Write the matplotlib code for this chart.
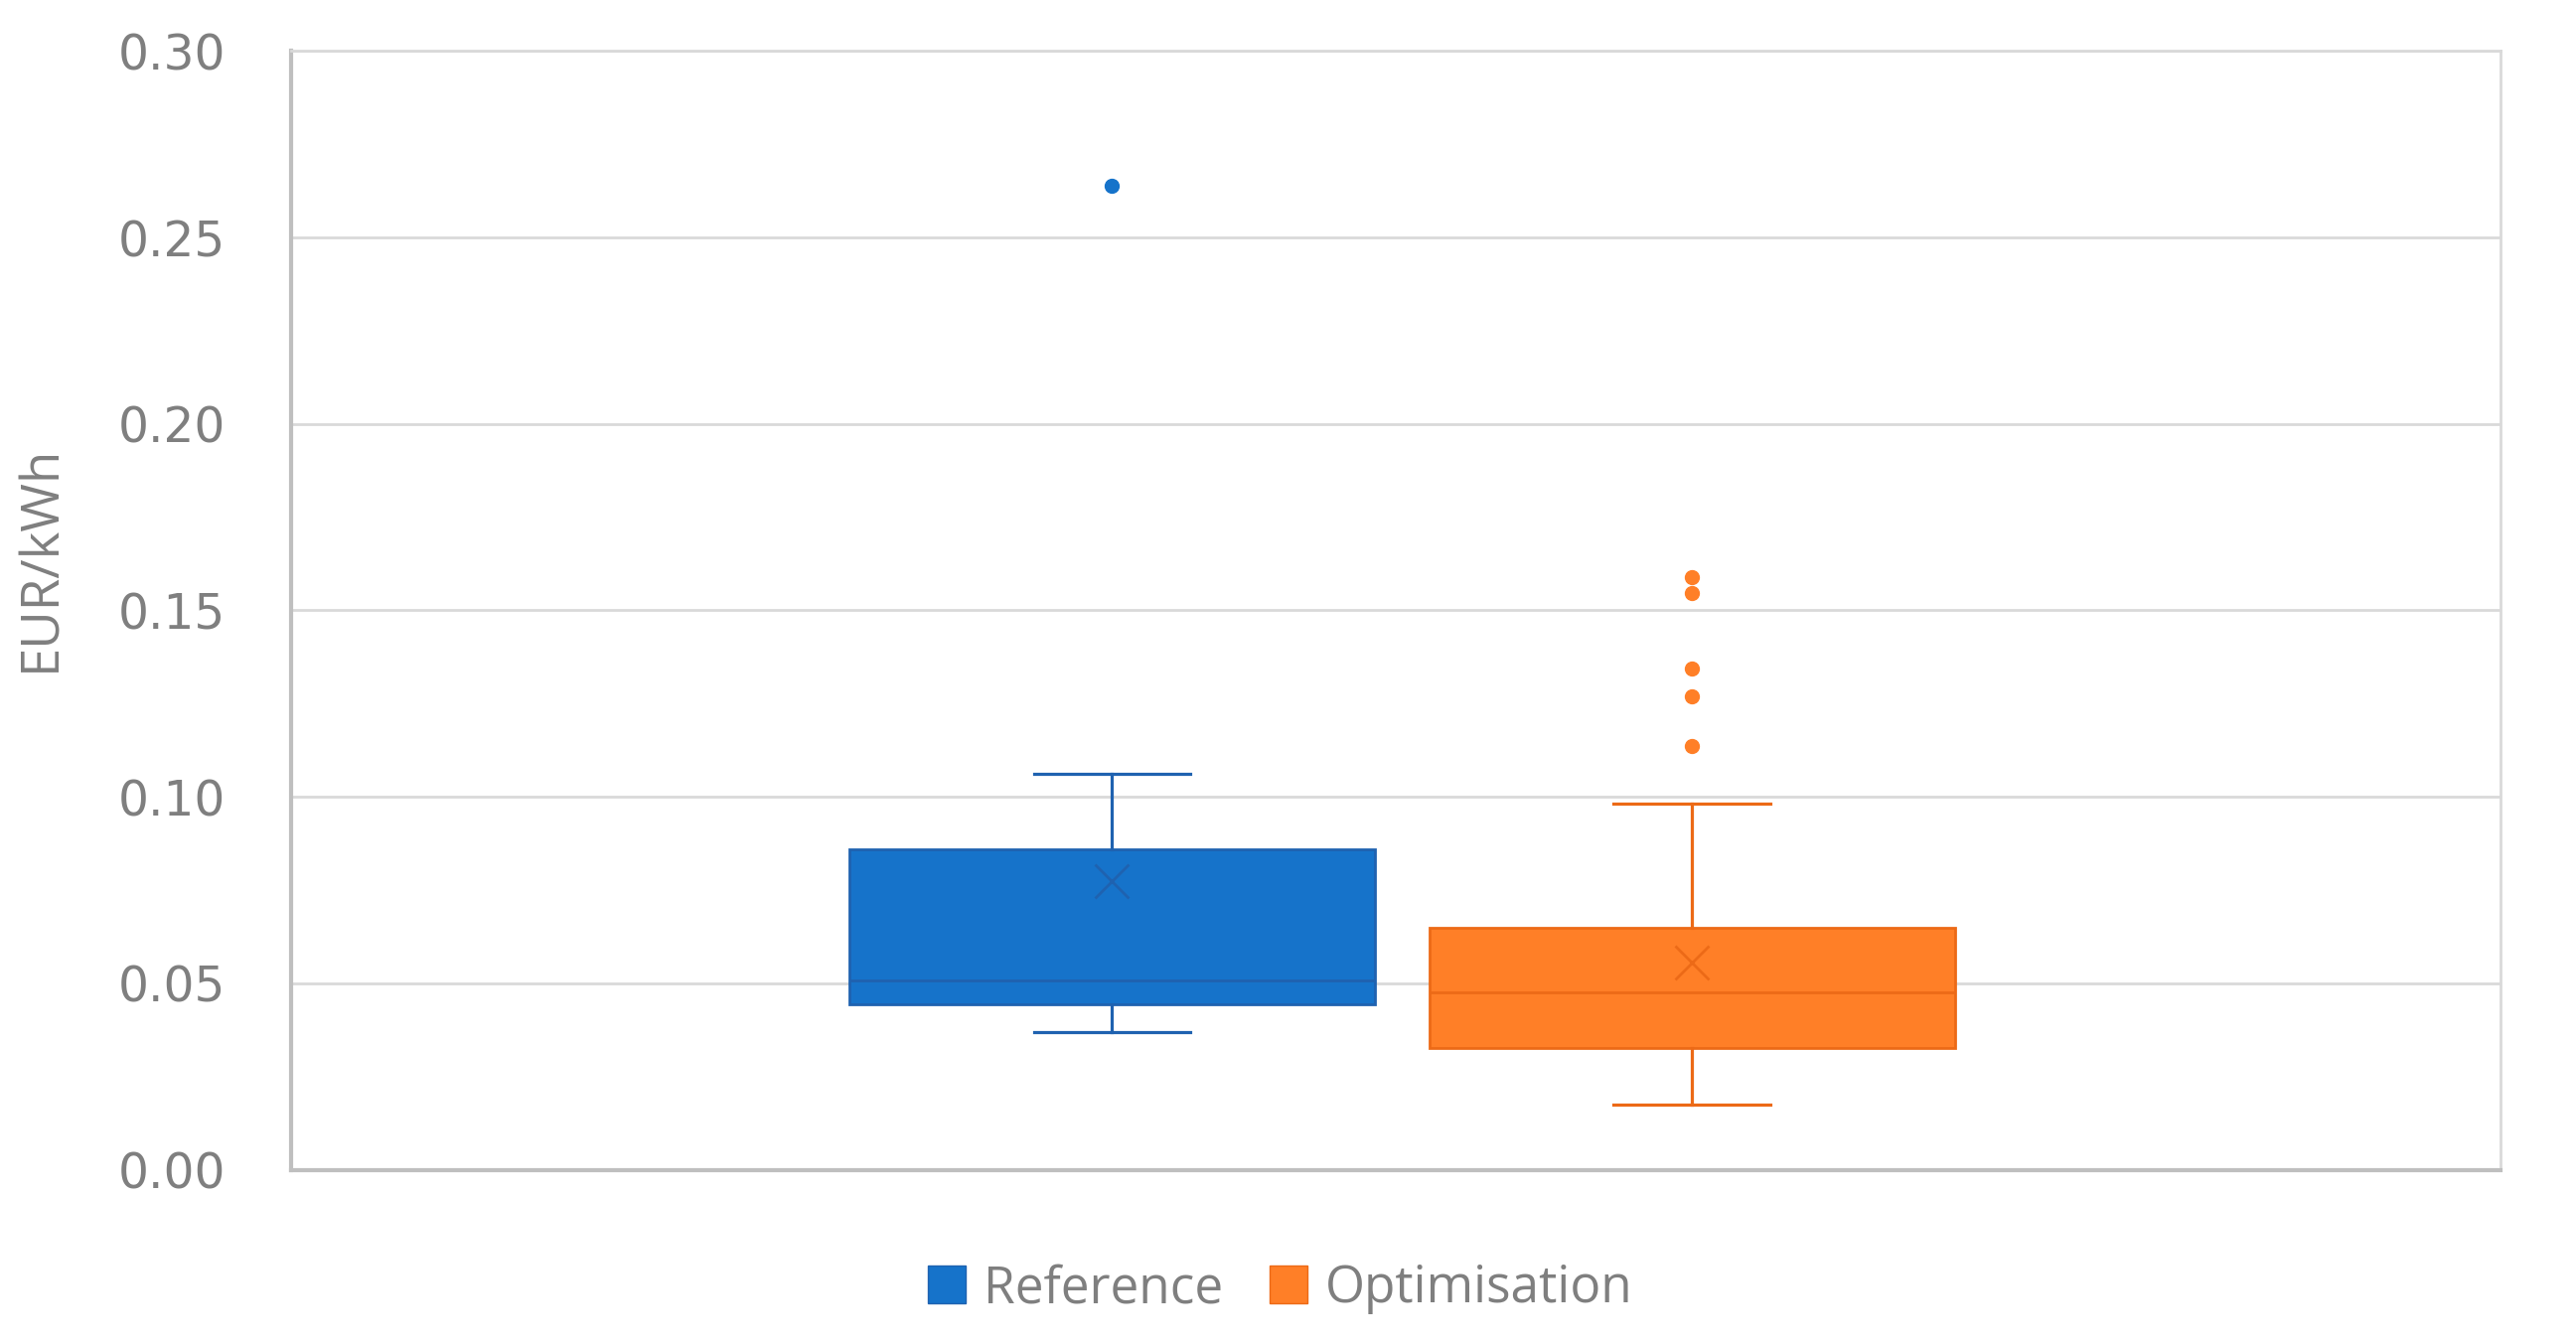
import matplotlib
matplotlib.use("Agg")
import matplotlib.pyplot as plt
from matplotlib.patches import Patch

# valores (EUR/kWh)
series = ["Reference", "Optimisation"]
whislo = [0.037, 0.0176]
q1 = [0.0445, 0.0326]
med = [0.0507, 0.0476]
q3 = [0.0859, 0.0648]
whishi = [0.1062, 0.0982]
means = [0.0775, 0.0555]
fliers = [[0.2639], [0.1590, 0.1546, 0.1344, 0.1269, 0.1137]]
yticks = [0.00, 0.05, 0.10, 0.15, 0.20, 0.25, 0.30]

face = ["#1673CA", "#FF7F27"]
edge = ["#1F62B0", "#EC6A17"]
grey = "#7F7F7F"

fig = plt.figure(figsize=(25.93, 13.53), dpi=100)
ax = fig.add_axes([0.1129, 0.1296, 0.8578, 0.8325])

for i in range(2):
    stats = [{
        "whislo": whislo[i], "q1": q1[i], "med": med[i], "q3": q3[i],
        "whishi": whishi[i], "mean": means[i], "fliers": fliers[i],
    }]
    ax.bxp(stats, positions=[i + 1], widths=0.906, patch_artist=True,
           showmeans=True, showfliers=True,
           boxprops=dict(facecolor=face[i], edgecolor=edge[i], linewidth=2),
           medianprops=dict(color=edge[i], linewidth=2),
           whiskerprops=dict(color=edge[i], linewidth=2.3),
           capprops=dict(color=edge[i], linewidth=2.3),
           capwidths=0.27,
           meanprops=dict(marker="x", markeredgecolor=edge[i],
                          markersize=24, markeredgewidth=2),
           flierprops=dict(marker="o", markerfacecolor=face[i],
                           markeredgecolor=face[i], markersize=10))

ax.set_xlim(-0.416, 3.394)
ax.set_ylim(0, 0.30)
ax.set_yticks(yticks)
ax.set_yticklabels([f"{v:.2f}" for v in yticks])
ax.set_xticks([])
ax.yaxis.grid(True, color="#D9D9D9", linewidth=2)
ax.set_axisbelow(True)
ax.tick_params(axis="y", length=0, pad=47, labelsize=35, labelcolor=grey)
for lab in ax.get_yticklabels():
    lab.set_fontfamily("DejaVu Sans")

for s in ["top", "right"]:
    ax.spines[s].set_color("#D9D9D9")
    ax.spines[s].set_linewidth(2)
for s in ["left", "bottom"]:
    ax.spines[s].set_color("#BFBFBF")
    ax.spines[s].set_linewidth(3)

fig.text(25 / 1568, 1 - 340 / 818, "EUR/kWh", rotation=90, fontsize=38,
         color=grey, family="Open Sans", ha="center", va="center")

handles = [Patch(facecolor=face[i], edgecolor=edge[i], label=series[i])
           for i in range(2)]
fig.legend(handles=handles, loc="center", bbox_to_anchor=(0.497, 0.041),
           ncol=2, frameon=False, prop=dict(family="Open Sans", size=37),
           labelcolor=grey, handlelength=0.75, handleheight=0.75,
           handletextpad=0.35, columnspacing=0.9)

fig.savefig("out.png", dpi=100, facecolor="white")
